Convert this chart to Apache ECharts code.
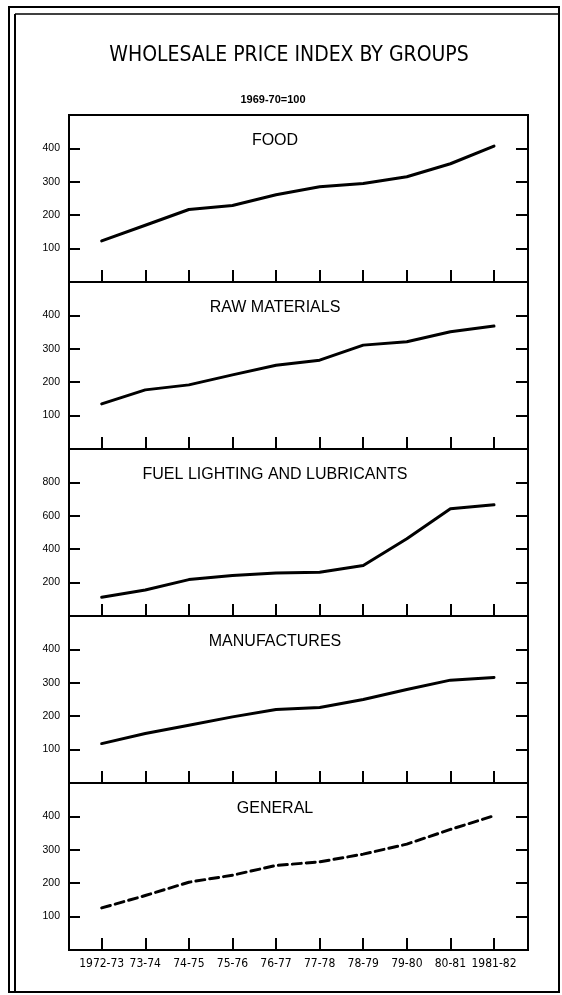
<!DOCTYPE html>
<html>
<head>
<meta charset="utf-8">
<script src="https://cdn.jsdelivr.net/npm/echarts@6/dist/echarts.min.js"></script>
<style>
html,body{margin:0;padding:0;background:#fff;}
#chart{width:562px;height:995px;}
</style>
</head>
<body>
<div id="chart"></div>
<script>
// ---- data ----
var categories = ['1972-73','73-74','74-75','75-76','76-77','77-78','78-79','79-80','80-81','1981-82'];
var panelTitles = ['FOOD','RAW MATERIALS','FUEL LIGHTING AND LUBRICANTS','MANUFACTURES','GENERAL'];
var food = [123,170,217,229,261,285,295,315,354,407];
var rawMaterials = [135,177,192,222,251,266,311,321,351,368];
var fuel = [112,156,218,242,258,262,302,462,642,666];
var manufactures = [118,148,173,198,220,226,250,280,308,316];
var general = [126,163,203,224,253,264,287,317,361,402];
var yTicksSmall = [100,200,300,400];
var yTicksFuel = [200,400,600,800];
var mainTitle = 'WHOLESALE PRICE INDEX BY GROUPS';
var subTitle = '1969-70=100';

var seriesValues = [food, rawMaterials, fuel, manufactures, general];
var yTicks = [yTicksSmall, yTicksSmall, yTicksFuel, yTicksSmall, yTicksSmall];
var yMax = [500, 500, 1000, 500, 500];

var panelTop = 115, panelH = 167, gridLeft = 69, gridRight = 34;
var catIdx = categories.map(function(_, i){ return i; });

var grids = [], xAxes = [], yAxes = [], series = [], graphics = [];
for (var p = 0; p < 5; p++) {
  grids.push({left: gridLeft, right: gridRight, top: panelTop + p*panelH, height: panelH,
    show: true, borderColor: '#000', borderWidth: 2, backgroundColor: 'transparent'});
  xAxes.push({
    type: 'value', gridIndex: p, min: -0.75, max: 9.78,
    axisLine: {show: false, onZero: false}, splitLine: {show: false},
    axisTick: {show: true, inside: true, length: 12, customValues: catIdx, lineStyle: {color: '#000', width: 2}},
    axisLabel: {show: p === 4, customValues: catIdx, margin: 8,
      formatter: function(v){ return categories[Math.round(v)] || ''; },
      color: '#000', fontSize: 12, fontFamily: '"Liberation Sans Narrow", "DejaVu Sans Condensed", sans-serif'}
  });
  var common = {
    type: 'value', gridIndex: p, min: 0, max: yMax[p],
    axisLine: {show: false, onZero: false}, splitLine: {show: false}
  };
  yAxes.push(Object.assign({}, common, {
    position: 'left',
    axisTick: {show: true, inside: true, length: 11, customValues: yTicks[p], lineStyle: {color: '#000', width: 2}},
    axisLabel: {show: true, customValues: yTicks[p], margin: 9, color: '#000', fontSize: 10.5,
      fontFamily: '"Liberation Sans", Arial, sans-serif'}
  }));
  yAxes.push(Object.assign({}, common, {
    position: 'right',
    axisTick: {show: true, inside: true, length: 12, customValues: yTicks[p], lineStyle: {color: '#000', width: 2}},
    axisLabel: {show: false}
  }));
  series.push({
    type: 'line', xAxisIndex: p, yAxisIndex: p*2, symbol: 'none', silent: true,
    data: seriesValues[p].map(function(v, i){ return [i, v]; }),
    lineStyle: {color: '#000', width: 3, type: p === 4 ? [9, 5] : 'solid', cap: 'round', join: 'round'}
  });
  graphics.push({type: 'text', x: 275, y: panelTop + p*panelH + 26,
    style: {text: panelTitles[p], fill: '#000', fontSize: 16, fontFamily: '"Liberation Sans", Arial, sans-serif',
      align: 'center', verticalAlign: 'middle'}});
}

graphics.push({type: 'text', x: 289, y: 56,
  style: {text: mainTitle, fill: '#000', fontSize: 21, fontFamily: '"Liberation Sans Narrow", "DejaVu Sans Condensed", sans-serif',
    align: 'center', verticalAlign: 'middle'}});
graphics.push({type: 'text', x: 273, y: 100,
  style: {text: subTitle, fill: '#000', fontSize: 11, fontWeight: 'bold', fontFamily: '"Liberation Sans", Arial, sans-serif',
    align: 'center', verticalAlign: 'middle'}});
// outer frame
graphics.push({type: 'rect', shape: {x: 9, y: 7, width: 550, height: 985},
  style: {fill: 'none', stroke: '#000', lineWidth: 2}});
graphics.push({type: 'line', shape: {x1: 15, y1: 14, x2: 15, y2: 992}, style: {stroke: '#000', lineWidth: 2}});
graphics.push({type: 'line', shape: {x1: 15, y1: 14, x2: 559, y2: 14}, style: {stroke: '#000', lineWidth: 1.5}});

var chart = echarts.init(document.getElementById('chart'), null, {renderer: 'canvas'});
chart.setOption({
  backgroundColor: '#fff',
  animation: false,
  grid: grids, xAxis: xAxes, yAxis: yAxes, series: series,
  graphic: graphics
});
</script>
</body>
</html>
